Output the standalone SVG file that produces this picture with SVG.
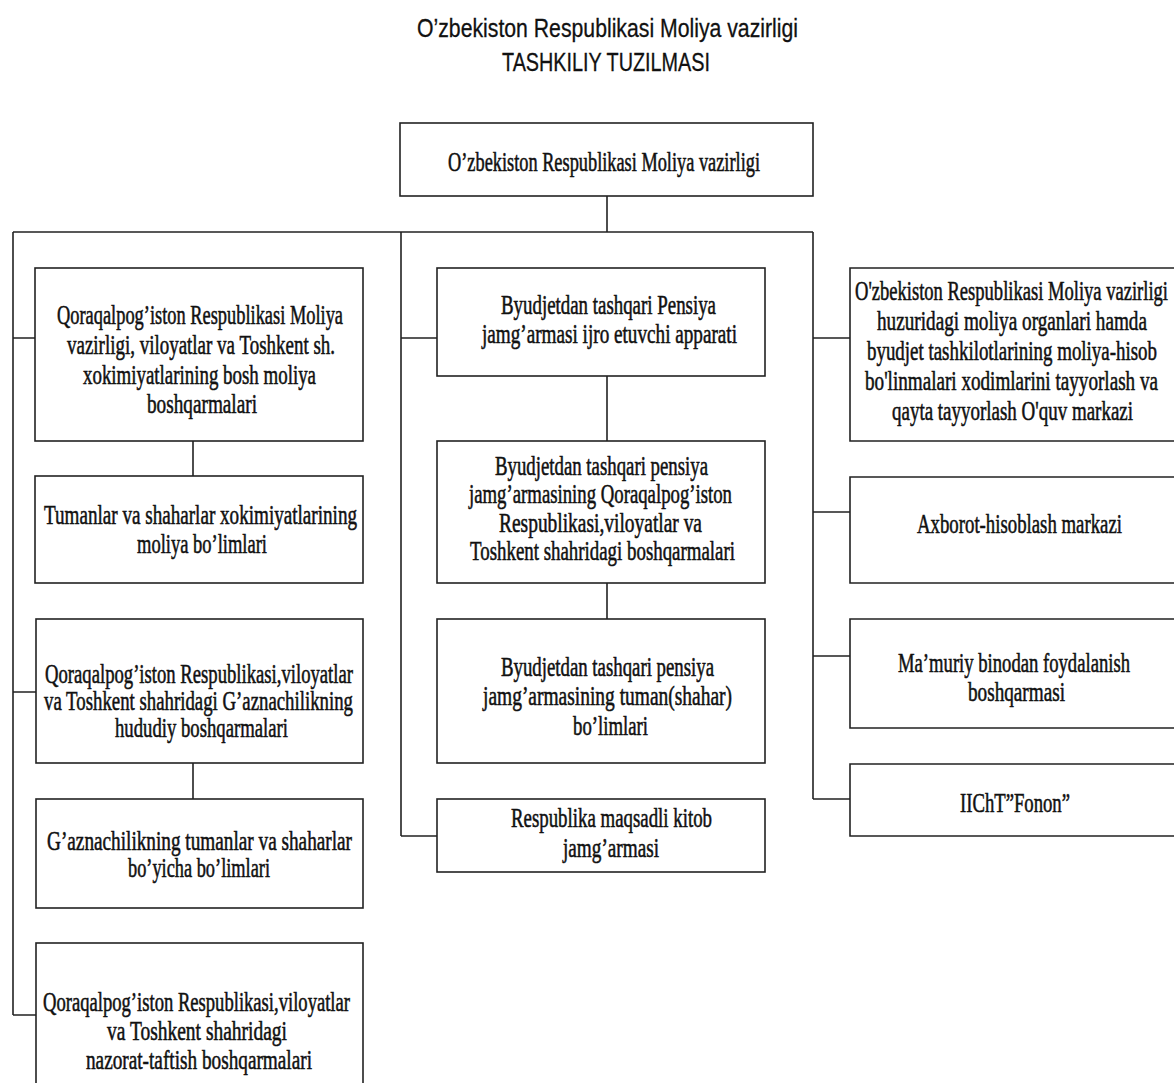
<svg xmlns="http://www.w3.org/2000/svg" width="1174" height="1083" viewBox="0 0 1174 1083">
<style>
.bx{fill:#fff;stroke:#222;stroke-width:1.6}
.bf{fill:#fff;stroke:none}
.ln{fill:none;stroke:#222;stroke-width:1.6}
.t{font-family:"Liberation Serif","Times New Roman",serif;font-size:27px;fill:#111;stroke:#111;stroke-width:0.55}
.h{font-family:"Liberation Sans",Arial,sans-serif;font-size:26px;fill:#111;stroke:#111;stroke-width:0.3}
</style>
<rect width="1174" height="1083" fill="#fff"/>
<g id="title">
<text class="h" x="417" y="37" textLength="381" lengthAdjust="spacingAndGlyphs">O’zbekiston Respublikasi Moliya vazirligi</text>
<text class="h" x="502" y="71" textLength="208" lengthAdjust="spacingAndGlyphs">TASHKILIY TUZILMASI</text>
</g>
<g id="connectors">
<path class="ln" d="M607 196V232M13 232H813M13 232V1015M13 338H35M13 692H36M13 1015H36M193 441V476M193 763V799M401 232V836M401 338H437M401 836H437M607 376V441M607 583V619M813 232V799M813 338H850M813 512H850M813 656H850M813 799H850"/>
</g>
<g id="top">
<rect class="bx" x="400" y="123" width="413" height="73"/>
<text class="t" x="448" y="171" textLength="312" lengthAdjust="spacingAndGlyphs">O’zbekiston Respublikasi Moliya vazirligi</text>
</g>
<g id="l1">
<rect class="bx" x="35" y="268" width="328" height="173"/>
<text class="t" x="57" y="324" textLength="286" lengthAdjust="spacingAndGlyphs">Qoraqalpog’iston Respublikasi Moliya</text>
<text class="t" x="67" y="354" textLength="268" lengthAdjust="spacingAndGlyphs">vazirligi, viloyatlar va Toshkent sh.</text>
<text class="t" x="83" y="384" textLength="233" lengthAdjust="spacingAndGlyphs">xokimiyatlarining bosh moliya</text>
<text class="t" x="147" y="413" textLength="110" lengthAdjust="spacingAndGlyphs">boshqarmalari</text>
</g>
<g id="l2">
<rect class="bx" x="35" y="476" width="328" height="107"/>
<text class="t" x="44" y="524" textLength="313" lengthAdjust="spacingAndGlyphs">Tumanlar va shaharlar xokimiyatlarining</text>
<text class="t" x="137" y="553" textLength="130" lengthAdjust="spacingAndGlyphs">moliya bo’limlari</text>
</g>
<g id="l3">
<rect class="bx" x="36" y="619" width="327" height="144"/>
<text class="t" x="45" y="683" textLength="308" lengthAdjust="spacingAndGlyphs">Qoraqalpog’iston Respublikasi,viloyatlar</text>
<text class="t" x="44" y="710" textLength="309" lengthAdjust="spacingAndGlyphs">va Toshkent shahridagi G’aznachilikning</text>
<text class="t" x="115" y="737" textLength="173" lengthAdjust="spacingAndGlyphs">hududiy boshqarmalari</text>
</g>
<g id="l4">
<rect class="bx" x="36" y="799" width="327" height="109"/>
<text class="t" x="47" y="850" textLength="305" lengthAdjust="spacingAndGlyphs">G’aznachilikning tumanlar va shaharlar</text>
<text class="t" x="128" y="877" textLength="142" lengthAdjust="spacingAndGlyphs">bo’yicha bo’limlari</text>
</g>
<g id="l5">
<rect class="bx" x="36" y="943" width="327" height="150"/>
<text class="t" x="43" y="1011" textLength="307" lengthAdjust="spacingAndGlyphs">Qoraqalpog’iston Respublikasi,viloyatlar</text>
<text class="t" x="107" y="1040" textLength="180" lengthAdjust="spacingAndGlyphs">va Toshkent shahridagi</text>
<text class="t" x="86" y="1069" textLength="226" lengthAdjust="spacingAndGlyphs">nazorat-taftish boshqarmalari</text>
</g>
<g id="m1">
<rect class="bx" x="437" y="268" width="328" height="108"/>
<text class="t" x="501" y="314" textLength="215" lengthAdjust="spacingAndGlyphs">Byudjetdan tashqari Pensiya</text>
<text class="t" x="482" y="343" textLength="255" lengthAdjust="spacingAndGlyphs">jamg’armasi ijro etuvchi apparati</text>
</g>
<g id="m2">
<rect class="bx" x="437" y="441" width="328" height="142"/>
<text class="t" x="495" y="475" textLength="213" lengthAdjust="spacingAndGlyphs">Byudjetdan tashqari pensiya</text>
<text class="t" x="469" y="503" textLength="263" lengthAdjust="spacingAndGlyphs">jamg’armasining Qoraqalpog’iston</text>
<text class="t" x="499" y="532" textLength="203" lengthAdjust="spacingAndGlyphs">Respublikasi,viloyatlar va</text>
<text class="t" x="470" y="560" textLength="265" lengthAdjust="spacingAndGlyphs">Toshkent shahridagi boshqarmalari</text>
</g>
<g id="m3">
<rect class="bx" x="437" y="619" width="328" height="144"/>
<text class="t" x="501" y="676" textLength="213" lengthAdjust="spacingAndGlyphs">Byudjetdan tashqari pensiya</text>
<text class="t" x="483" y="705" textLength="249" lengthAdjust="spacingAndGlyphs">jamg’armasining tuman(shahar)</text>
<text class="t" x="573" y="735" textLength="75" lengthAdjust="spacingAndGlyphs">bo’limlari</text>
</g>
<g id="m4">
<rect class="bx" x="437" y="799" width="328" height="73"/>
<text class="t" x="511" y="827" textLength="201" lengthAdjust="spacingAndGlyphs">Respublika maqsadli kitob</text>
<text class="t" x="563" y="857" textLength="96" lengthAdjust="spacingAndGlyphs">jamg’armasi</text>
</g>
<g id="r1">
<rect class="bf" x="850" y="268" width="324" height="173"/>
<path class="ln" d="M1174 268H850V441H1174"/>
<text class="t" x="855" y="300" textLength="313" lengthAdjust="spacingAndGlyphs">O'zbekiston Respublikasi Moliya vazirligi</text>
<text class="t" x="877" y="330" textLength="270" lengthAdjust="spacingAndGlyphs">huzuridagi moliya organlari hamda</text>
<text class="t" x="867" y="360" textLength="290" lengthAdjust="spacingAndGlyphs">byudjet tashkilotlarining moliya-hisob</text>
<text class="t" x="865" y="390" textLength="293" lengthAdjust="spacingAndGlyphs">bo'linmalari xodimlarini tayyorlash va</text>
<text class="t" x="892" y="420" textLength="241" lengthAdjust="spacingAndGlyphs">qayta tayyorlash O'quv markazi</text>
</g>
<g id="r2">
<rect class="bf" x="850" y="477" width="324" height="106"/>
<path class="ln" d="M1174 477H850V583H1174"/>
<text class="t" x="917" y="533" textLength="205" lengthAdjust="spacingAndGlyphs">Axborot-hisoblash markazi</text>
</g>
<g id="r3">
<rect class="bf" x="850" y="619" width="324" height="109"/>
<path class="ln" d="M1174 619H850V728H1174"/>
<text class="t" x="898" y="672" textLength="232" lengthAdjust="spacingAndGlyphs">Ma’muriy binodan foydalanish</text>
<text class="t" x="968" y="701" textLength="97" lengthAdjust="spacingAndGlyphs">boshqarmasi</text>
</g>
<g id="r4">
<rect class="bf" x="850" y="764" width="324" height="72"/>
<path class="ln" d="M1174 764H850V836H1174"/>
<text class="t" x="960" y="812" textLength="110" lengthAdjust="spacingAndGlyphs">IIChT”Fonon”</text>
</g>
</svg>
